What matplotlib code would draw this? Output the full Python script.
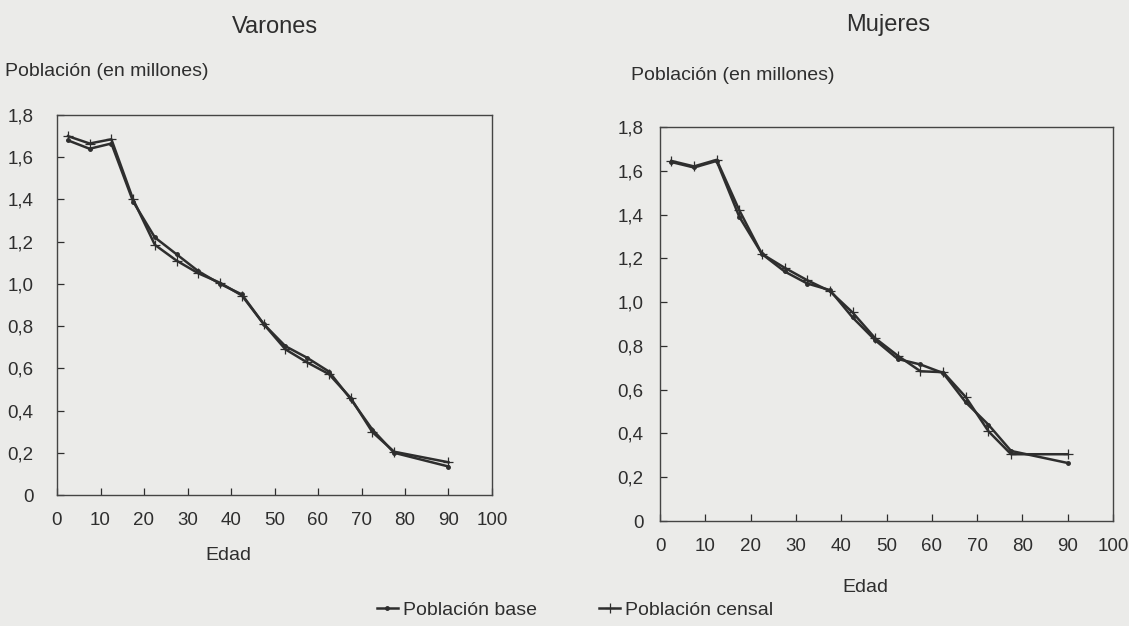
import matplotlib
matplotlib.use('Agg')
import matplotlib.pyplot as plt
from matplotlib.ticker import FuncFormatter

plt.rcParams['font.family'] = ['Liberation Sans', 'DejaVu Sans']

# age group midpoints (last one is the open 85+ group)
ages = [2.5, 7.5, 12.5, 17.5, 22.5, 27.5, 32.5, 37.5, 42.5, 47.5,
        52.5, 57.5, 62.5, 67.5, 72.5, 77.5, 90]

varones_base = [1.68, 1.64, 1.665, 1.39, 1.22, 1.14, 1.06, 1.00, 0.95, 0.81,
                0.705, 0.65, 0.585, 0.455, 0.31, 0.20, 0.135]
varones_censal = [1.70, 1.665, 1.685, 1.40, 1.185, 1.11, 1.05, 1.005, 0.945, 0.81,
                  0.69, 0.628, 0.573, 0.46, 0.298, 0.205, 0.155]

mujeres_base = [1.64, 1.615, 1.645, 1.39, 1.22, 1.14, 1.085, 1.055, 0.93, 0.826,
                0.74, 0.715, 0.676, 0.542, 0.44, 0.32, 0.265]
mujeres_censal = [1.645, 1.62, 1.65, 1.42, 1.22, 1.157, 1.10, 1.05, 0.953, 0.835,
                  0.755, 0.684, 0.68, 0.566, 0.41, 0.305, 0.305]

x_ticks = [0, 10, 20, 30, 40, 50, 60, 70, 80, 90, 100]
y_ticks = [0, 0.2, 0.4, 0.6, 0.8, 1.0, 1.2, 1.4, 1.6, 1.8]

bg = '#ebebe9'
ink = '#2e2e2e'
W, H = 1129, 626


def comma(v, pos):
    if v == 0:
        return '0'
    return f'{v:.1f}'.replace('.', ',')


def px(x, y):
    # pixel position -> figure fraction
    return x / W, 1 - y / H


fig = plt.figure(figsize=(W / 100, H / 100), dpi=100, facecolor=bg)


def panel(rect, base, censal, ypad):
    ax = fig.add_axes(rect, facecolor=bg)
    ax.plot(ages, base, color=ink, linewidth=1.8, marker='o', markersize=2.5,
            label='Población base')
    ax.plot(ages, censal, color=ink, linewidth=1.8, marker='+', markersize=7,
            markeredgewidth=0.9, label='Población censal')
    ax.set_xlim(0, 100)
    ax.set_ylim(0, 1.8)
    ax.set_xticks(x_ticks)
    ax.set_yticks(y_ticks)
    ax.yaxis.set_major_formatter(FuncFormatter(comma))
    ax.tick_params(direction='in', length=5, width=0.9, color=ink,
                   labelcolor=ink, labelsize=13.5)
    ax.tick_params(axis='y', pad=ypad)
    ax.tick_params(axis='x', pad=12)
    for s in ax.spines.values():
        s.set_color('#444444')
        s.set_linewidth(1.0)
    return ax


l0, t0 = px(57, 115)
l1, b1 = px(492, 495)
ax1 = panel([l0, b1, l1 - l0, t0 - b1], varones_base, varones_censal, 17)

r0, rt = px(660, 127)
r1, rb = px(1113, 521)
ax2 = panel([r0, rb, r1 - r0, rt - rb], mujeres_base, mujeres_censal, 12)

# titles and axis captions
fig.text(*px(275, 27), 'Varones', ha='center', va='center', fontsize=17, color=ink)
fig.text(*px(888, 25), 'Mujeres', ha='center', va='center', fontsize=17, color=ink)
fig.text(*px(5, 72), 'Población (en millones)', ha='left', va='center', fontsize=14, color=ink)
fig.text(*px(631, 76), 'Población (en millones)', ha='left', va='center', fontsize=14, color=ink)
fig.text(*px(228, 556), 'Edad', ha='center', va='center', fontsize=14, color=ink)
fig.text(*px(865, 588), 'Edad', ha='center', va='center', fontsize=14, color=ink)

handles, labels = ax1.get_legend_handles_labels()
fig.legend(handles, labels, loc='center', bbox_to_anchor=px(575, 610), ncol=2,
           frameon=False, fontsize=14, handlelength=1.1, handletextpad=0.25,
           columnspacing=3.2, labelcolor=ink)

fig.savefig('out.png', dpi=100, facecolor=bg)
